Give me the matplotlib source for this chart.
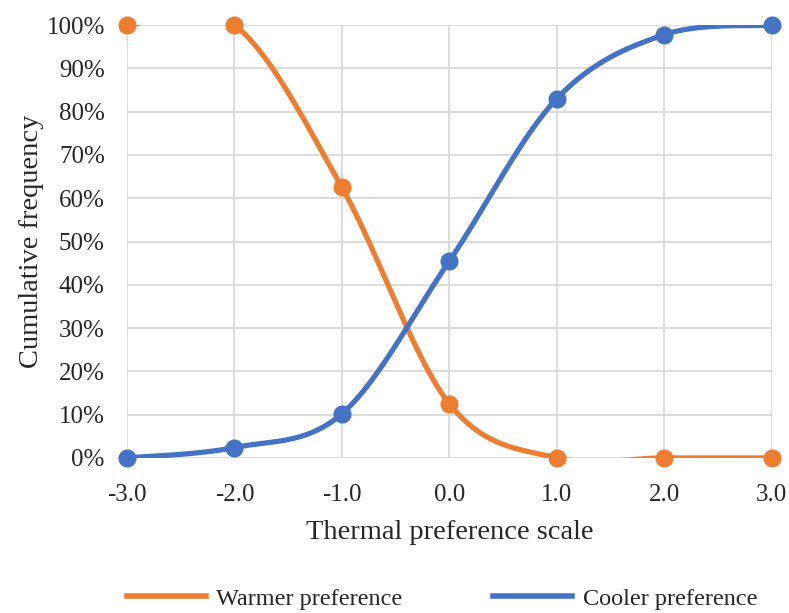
import matplotlib
matplotlib.use('Agg')
import matplotlib.pyplot as plt
from matplotlib.ticker import PercentFormatter
from matplotlib.lines import Line2D
import numpy as np

plt.rcParams['font.family'] = ['Liberation Serif', 'DejaVu Serif']

# Thermal preference scale and cumulative frequencies (%)
scale = [-3.0, -2.0, -1.0, 0.0, 1.0, 2.0, 3.0]
warmer = [100.0, 100.0, 62.5, 12.5, 0.0, 0.0, 0.0]
cooler = [0.0, 2.4, 10.2, 45.5, 83.0, 97.8, 100.0]

orange = '#ED7D31'
blue = '#4472C4'


def smooth(x, y, n=60):
    # spreadsheet-style smoothed line: cubic Bezier with 1/6 tangent control points
    x = np.asarray(x, float)
    y = np.asarray(y, float)
    px = np.concatenate([[x[0]], x, [x[-1]]])
    py = np.concatenate([[y[0]], y, [y[-1]]])
    t = np.linspace(0, 1, n)[:, None]
    xs, ys = [], []
    for i in range(len(x) - 1):
        p0 = np.array([px[i + 1], py[i + 1]])
        p3 = np.array([px[i + 2], py[i + 2]])
        p1 = p0 + (p3 - np.array([px[i], py[i]])) / 6
        p2 = p3 - (np.array([px[i + 3], py[i + 3]]) - p0) / 6
        b = ((1 - t) ** 3) * p0 + 3 * ((1 - t) ** 2) * t * p1 + 3 * (1 - t) * t ** 2 * p2 + t ** 3 * p3
        xs.append(b[:, 0])
        ys.append(b[:, 1])
    return np.concatenate(xs), np.concatenate(ys)


fig = plt.figure(figsize=(7.89, 6.13), dpi=100)
ax = fig.add_axes([0.161, 0.253, 0.817, 0.706])

for y, c in [(warmer, orange), (cooler, blue)]:
    sx, sy = smooth(scale, y)
    ax.plot(sx, sy, color=c, lw=3.75, solid_capstyle='round', zorder=3)
    ax.plot(scale, y, 'o', color=c, ms=12, clip_on=False, zorder=4)

ax.set_xlim(-3, 3)
ax.set_ylim(0, 100)
ax.set_xticks(scale)
ax.set_xticklabels([f'{v:.1f}' for v in scale])
ax.set_yticks(np.arange(0, 101, 10))
ax.yaxis.set_major_formatter(PercentFormatter(decimals=0))
ax.grid(True, color='#D9D9D9', lw=1.3)
ax.set_axisbelow(True)
for s in ax.spines.values():
    s.set_visible(False)
ax.tick_params(length=0, labelsize=18, colors='#262626', pad=16)
ax.tick_params(axis='x', pad=19)
ax.set_xlabel('Thermal preference scale', fontsize=20.5, labelpad=10, color='#262626')
ax.set_ylabel('Cumulative frequency', fontsize=20.5, labelpad=2, color='#262626')

handles = [Line2D([], [], color=orange, lw=4), Line2D([], [], color=blue, lw=4)]
fig.legend(handles, ['Warmer preference', 'Cooler preference'], loc='lower center',
           bbox_to_anchor=(0.56, -0.03), ncol=2, frameon=False, fontsize=17.5,
           handlelength=3.25, columnspacing=3.7, handletextpad=0.45, labelcolor='#262626')

fig.savefig('out.png', dpi=100)
